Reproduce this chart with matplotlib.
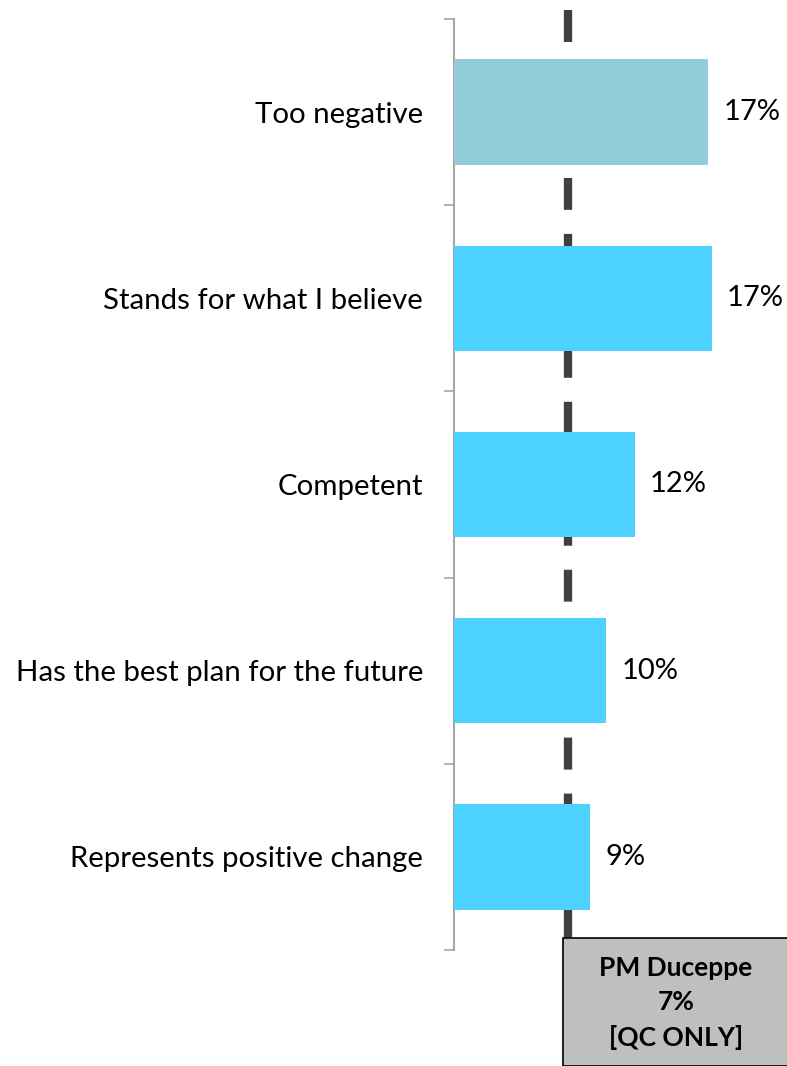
import matplotlib.pyplot as plt
import matplotlib.patches as patches
import matplotlib.transforms as mtransforms

plt.rcParams['font.family'] = ['Lato', 'DejaVu Sans']
plt.rcParams['lines.scale_dashes'] = False

# data
categories = ["Too negative", "Stands for what I believe", "Competent",
              "Has the best plan for the future", "Represents positive change"]
values = [16.85, 17.1, 12.0, 10.1, 9.05]
value_labels = ["17%", "17%", "12%", "10%", "9%"]
bar_colors = ["#92CDDC", "#4DD2FF", "#4DD2FF", "#4DD2FF", "#4DD2FF"]

duceppe_line = 7.6  # where the reference line sits on the axis
duceppe_text = "PM Duceppe\n7%\n[QC ONLY]"

W, H = 787, 1066
fig = plt.figure(figsize=(W / 100, H / 100), dpi=100)

# axes placed in pixels: spine at x=453.5, from y=19 to y=950
x0, y_top, y_bot = 453.5, 19, 950
px_per_unit = 15.1
xmax = 22
ax = fig.add_axes([x0 / W, (H - y_bot) / H, xmax * px_per_unit / W, (y_bot - y_top) / H])

y = list(range(len(categories)))
ax.barh(y, values, height=0.565, color=bar_colors, zorder=3)
ax.set_xlim(0, xmax)
ax.set_ylim(len(categories) - 0.5, -0.5)

for yi, v, lab in zip(y, values, value_labels):
    ax.annotate(lab, (v, yi), xytext=(11, 0), textcoords='offset points',
                va='center', ha='left', fontsize=21, color='#000000')

# spines / ticks
for s in ['top', 'right', 'bottom']:
    ax.spines[s].set_visible(False)
ax.spines['left'].set_color('#A6A6A6')
ax.spines['left'].set_linewidth(1.5)
ax.set_xticks([])
ax.set_yticks([i - 0.5 for i in range(len(categories) + 1)])
ax.set_yticklabels([])
ax.tick_params(axis='y', which='major', length=7.5, width=1.2, color='#A6A6A6')
ax.set_yticks(y, minor=True)
ax.set_yticklabels(categories, minor=True, fontsize=21.2)
ax.tick_params(axis='y', which='minor', length=0, pad=22)

# dashed reference line, runs past the top of the axes down to the box
trans = mtransforms.blended_transform_factory(ax.transData, ax.transAxes)
top_frac = 1 + (y_top - 10) / (y_bot - y_top)
ax.plot([duceppe_line, duceppe_line], [top_frac, 0], transform=trans,
        color='#404040', linewidth=6, dashes=(23, 17.3),
        solid_capstyle='butt', dash_capstyle='butt', clip_on=False, zorder=2)

# grey box at the bottom
box = patches.Rectangle((563 / W, 0), (W - 563 + 5) / W, (H - 938) / H,
                        transform=fig.transFigure, facecolor='#BFBFBF',
                        edgecolor='#000000', linewidth=1.2, zorder=5)
fig.add_artist(box)
fig.text(676 / W, (H - 1003) / H, duceppe_text, ha='center', va='center',
         fontsize=19, fontweight='bold', linespacing=1.5, zorder=6)

fig.savefig('out.png', dpi=100)
